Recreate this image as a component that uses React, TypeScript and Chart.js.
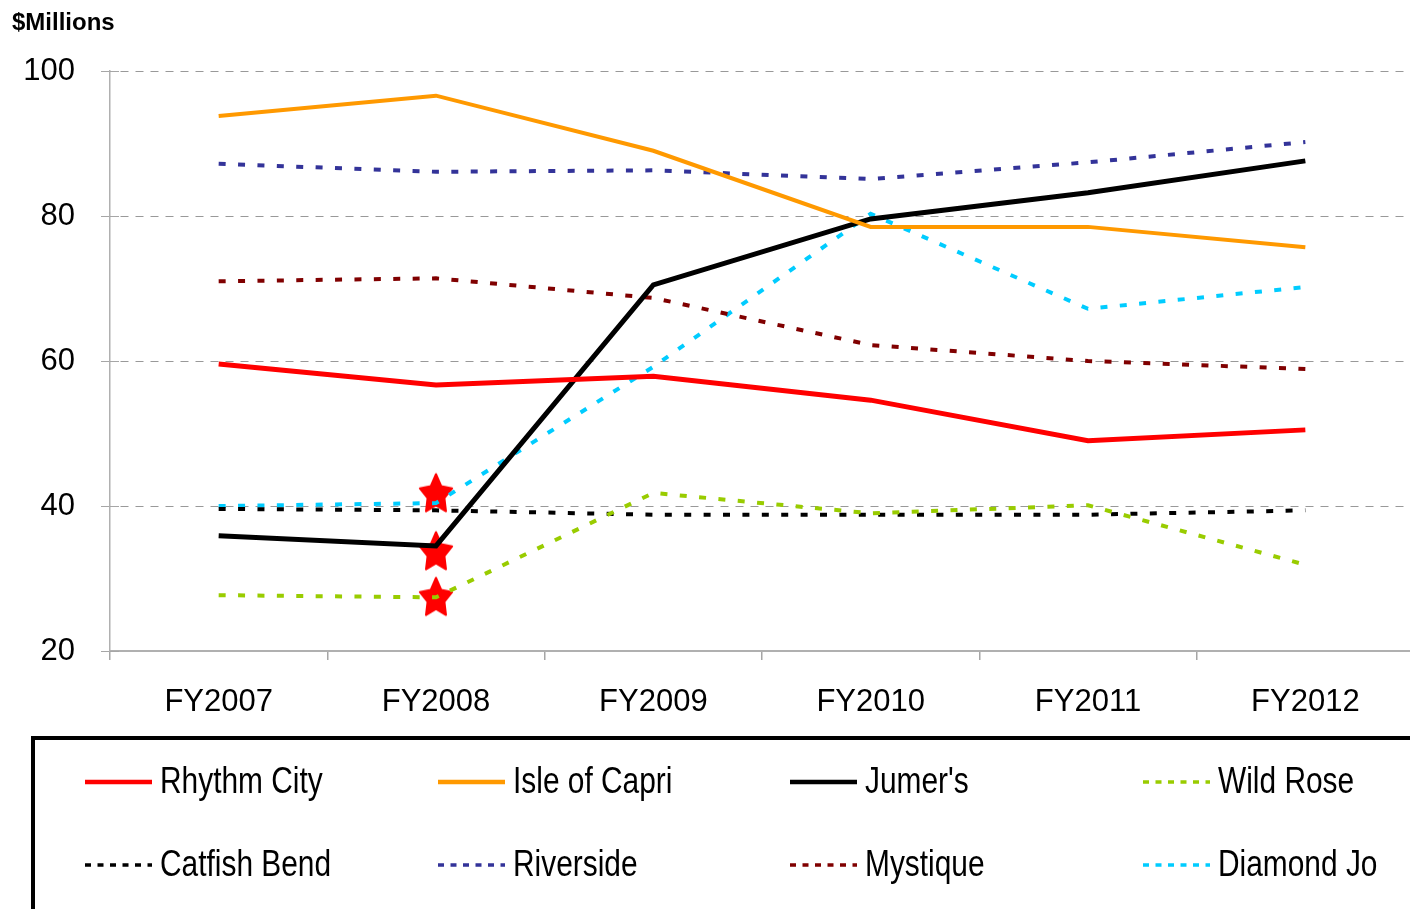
import React, { useEffect, useRef } from "react";
import { Chart, registerables } from "chart.js";
Chart.register(...registerables);

const categories = ["FY2007", "FY2008", "FY2009", "FY2010", "FY2011", "FY2012"];
const yTicks = [20, 40, 60, 80, 100];
const rhythmCity = [59.6, 56.7, 57.9, 54.6, 49.0, 50.5];
const isleOfCapri = [93.8, 96.6, 89.0, 78.5, 78.5, 75.7];
const jumers = [35.9, 34.5, 70.5, 79.6, 83.2, 87.6];
const wildRose = [27.7, 27.4, 41.8, 39.0, 40.1, 31.9];
const catfishBend = [39.6, 39.4, 38.8, 38.8, 38.8, 39.4];
const riverside = [87.2, 86.1, 86.3, 85.1, 87.4, 90.2];
const mystique = [71.0, 71.4, 68.7, 62.2, 60.0, 58.9];
const diamondJo = [40.0, 40.4, 59.2, 80.3, 67.2, 70.2];
const starCategory = "FY2008";
const starValues = [41.7, 33.7, 27.4];

const FONT = "'Liberation Sans', Arial, sans-serif";
const DASH = [7, 12.4];

function makeStar(): HTMLCanvasElement {
  const c = document.createElement("canvas");
  c.width = 44;
  c.height = 46;
  const ctx = c.getContext("2d")!;
  const cx = 22, cy = 24, rx = 17, ry = 20.5, k = 0.52;
  ctx.beginPath();
  for (let i = 0; i < 10; i++) {
    const a = -Math.PI / 2 + (i * Math.PI) / 5;
    const f = i % 2 === 0 ? 1 : k;
    const x = cx + Math.cos(a) * rx * f;
    const y = cy + Math.sin(a) * ry * f;
    if (i === 0) ctx.moveTo(x, y);
    else ctx.lineTo(x, y);
  }
  ctx.closePath();
  ctx.fillStyle = "#FF0000";
  ctx.strokeStyle = "#FF0000";
  ctx.lineJoin = "round";
  ctx.lineWidth = 2;
  ctx.fill();
  ctx.stroke();
  return c;
}

const tickCrossPlugin = {
  id: "tickCross",
  beforeDatasetsDraw(chart: any) {
    const ctx = chart.ctx as CanvasRenderingContext2D;
    const y = chart.scales.y;
    const left = chart.chartArea.left;
    ctx.save();
    ctx.strokeStyle = "#A6A6A6";
    ctx.lineWidth = 1;
    ctx.setLineDash([]);
    y.ticks.forEach((t: any) => {
      const py = Math.round(y.getPixelForValue(t.value)) + 0.5;
      ctx.beginPath();
      ctx.moveTo(left, py);
      ctx.lineTo(left + 9, py);
      ctx.stroke();
    });
    ctx.restore();
  },
};

const legendPlugin = {
  id: "boxLegend",
  afterDraw(chart: any) {
    const ctx = chart.ctx as CanvasRenderingContext2D;
    ctx.save();
    ctx.lineWidth = 4;
    ctx.strokeStyle = "#000";
    ctx.setLineDash([]);
    ctx.strokeRect(33, 738, 1500, 400);
    const cols = [85, 438, 790, 1143];
    const rows = [782, 865];
    const items = chart.data.datasets.filter((d: any) => !d.isStar);
    items.forEach((ds: any, i: number) => {
      const x = cols[i % 4];
      const y = rows[Math.floor(i / 4)];
      ctx.beginPath();
      ctx.strokeStyle = ds.borderColor;
      ctx.lineWidth = ds.borderDash && ds.borderDash.length ? 3.5 : 4.5;
      ctx.lineCap = "butt";
      ctx.setLineDash(ds.borderDash && ds.borderDash.length ? [6, 6.5] : []);
      ctx.moveTo(x, y);
      ctx.lineTo(x + 67, y);
      ctx.stroke();
      ctx.setLineDash([]);
      ctx.fillStyle = "#000";
      ctx.font = `36px ${FONT}`;
      ctx.textBaseline = "middle";
      ctx.textAlign = "left";
      ctx.save();
      ctx.translate(x + 75, y + 1);
      ctx.scale(0.83, 1);
      ctx.fillText(ds.label, 0, 0);
      ctx.restore();
    });
    ctx.font = `bold 24px ${FONT}`;
    ctx.textBaseline = "alphabetic";
    ctx.fillStyle = "#000";
    ctx.fillText("$Millions", 12, 30);
    ctx.restore();
  },
};

export default function App() {
  const ref = useRef<HTMLCanvasElement>(null);
  useEffect(() => {
    if (!ref.current) return;
    const star = makeStar();
    const line = (label: string, data: number[], color: string, width: number, dashed: boolean) => ({
      type: "line" as const,
      label,
      data,
      borderColor: color,
      backgroundColor: color,
      borderWidth: width,
      borderDash: dashed ? DASH : [],
      pointRadius: 0,
      pointHoverRadius: 0,
      tension: 0,
      fill: false,
    });
    const chart = new Chart(ref.current, {
      type: "line",
      data: {
        labels: categories,
        datasets: [
          line("Rhythm City", rhythmCity, "#FF0000", 5, false),
          line("Isle of Capri", isleOfCapri, "#FF9900", 4, false),
          line("Jumer's", jumers, "#000000", 5, false),
          line("Wild Rose", wildRose, "#99CC00", 4, true),
          line("Catfish Bend", catfishBend, "#000000", 4, true),
          line("Riverside", riverside, "#333399", 4, true),
          line("Mystique", mystique, "#800000", 4, true),
          line("Diamond Jo", diamondJo, "#00CCFF", 4, true),
          {
            type: "scatter" as const,
            label: "stars",
            isStar: true,
            data: starValues.map((v) => ({ x: starCategory, y: v })),
            pointStyle: star,
            pointRadius: 18,
            showLine: false,
          } as any,
        ],
      },
      options: {
        animation: false,
        responsive: false,
        events: [],
        layout: { autoPadding: false, padding: { top: 71, bottom: 178, left: 0, right: 0 } },
        plugins: { legend: { display: false }, tooltip: { enabled: false }, title: { display: false } },
        scales: {
          x: {
            type: "category",
            offset: true,
            grid: {
              offset: true,
              drawOnChartArea: false,
              drawTicks: true,
              tickLength: 9,
              color: "#A6A6A6",
              lineWidth: 1.5,
            },
            border: { display: true, color: "#B0B0B0", width: 2 },
            ticks: { color: "#000", font: { size: 31, family: FONT }, padding: 24, maxRotation: 0 },
            afterFit: (s: any) => {
              s.height = 80;
              s.paddingLeft = 0;
              s.paddingRight = 0;
            },
          },
          y: {
            min: 20,
            max: 100,
            afterBuildTicks: (s: any) => {
              s.ticks = yTicks.map((v) => ({ value: v }));
            },
            grid: {
              color: (c: any) => (c.tick && c.tick.value === 20 ? "rgba(0,0,0,0)" : "#999999"),
              tickColor: "#A6A6A6",
              lineWidth: 1,
              tickLength: 9,
            },
            border: { display: true, color: "#B0B0B0", width: 1.5, dash: [8, 7], dashOffset: -10 },
            ticks: { color: "#000", font: { size: 31, family: FONT }, padding: 26 },
            afterFit: (s: any) => {
              s.width = 110;
            },
          },
        },
      },
      plugins: [tickCrossPlugin, legendPlugin],
    } as any);
    return () => chart.destroy();
  }, []);
  return (
    <div style={{ position: "absolute", left: 0, top: 0, width: 1410, height: 909, overflow: "hidden", background: "#fff" }}>
      <canvas ref={ref} width={1414} height={909} style={{ display: "block" }} />
    </div>
  );
}
